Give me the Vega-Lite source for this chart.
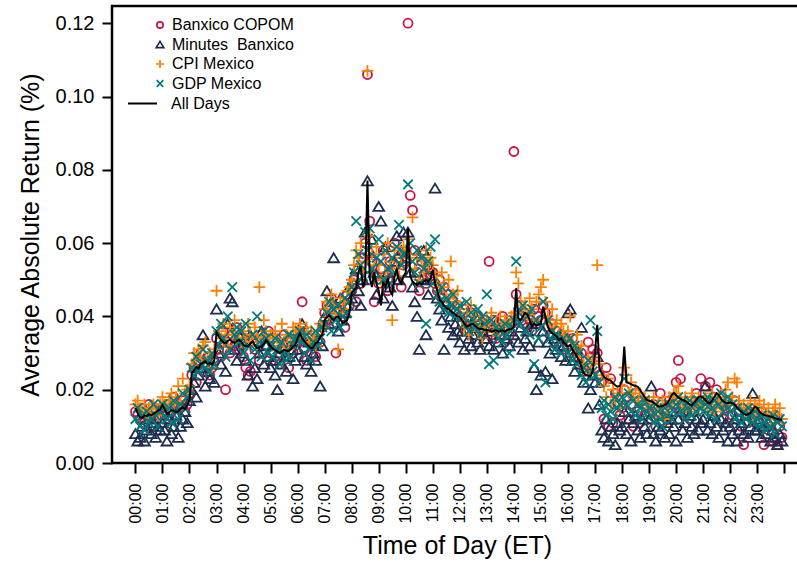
{
"$schema":"https://vega.github.io/schema/vega-lite/v6.json",
"width":690,"height":457,"autosize":"none",
"padding":{"left":112,"top":6,"right":0,"bottom":102},
"config":{"font":"Liberation Sans","view":{"stroke":"#000","strokeWidth":2.5},
"axis":{"grid":false,"domain":false,"tickColor":"#000","tickWidth":2,"tickSize":10,"labelColor":"#000","titleColor":"#000","titleFontWeight":"normal"},
"legend":{"labelColor":"#000"}},
"datasets":{"r":[
{"t":0,"a":0.014,"b":0.008,"c":0.016,"d":0.012,"l":0.0150},
{"t":5,"a":0.013,"b":0.006,"c":0.017,"d":0.015,"l":0.0136},
{"t":10,"a":0.012,"b":0.007,"c":0.015,"d":0.010,"l":0.0125},
{"t":15,"a":0.015,"b":0.010,"c":0.014,"d":0.013,"l":0.0123},
{"t":20,"a":0.011,"b":0.006,"c":0.016,"d":0.009,"l":0.0130},
{"t":25,"a":0.013,"b":0.009,"c":0.013,"d":0.014,"l":0.0128},
{"t":30,"a":0.016,"b":0.012,"c":0.015,"d":0.011,"l":0.0133},
{"t":35,"a":0.012,"b":0.008,"c":0.014,"d":0.012,"l":0.0130},
{"t":40,"a":0.010,"b":0.011,"c":0.016,"d":0.016,"l":0.0134},
{"t":45,"a":0.014,"b":0.007,"c":0.015,"d":0.013,"l":0.0138},
{"t":50,"a":0.013,"b":0.010,"c":0.013,"d":0.010,"l":0.0143},
{"t":55,"a":0.015,"b":0.009,"c":0.016,"d":0.014,"l":0.0146},
{"t":60,"a":0.015,"b":0.011,"c":0.018,"d":0.016,"l":0.0158},
{"t":65,"a":0.013,"b":0.009,"c":0.016,"d":0.013,"l":0.0147},
{"t":70,"a":0.016,"b":0.006,"c":0.015,"d":0.012,"l":0.0134},
{"t":75,"a":0.012,"b":0.012,"c":0.017,"d":0.015,"l":0.0138},
{"t":80,"a":0.014,"b":0.008,"c":0.019,"d":0.011,"l":0.0145},
{"t":85,"a":0.018,"b":0.010,"c":0.016,"d":0.017,"l":0.0142},
{"t":90,"a":0.013,"b":0.013,"c":0.018,"d":0.014,"l":0.0139},
{"t":95,"a":0.016,"b":0.007,"c":0.021,"d":0.012,"l":0.0141},
{"t":100,"a":0.015,"b":0.010,"c":0.017,"d":0.016,"l":0.0148},
{"t":105,"a":0.017,"b":0.012,"c":0.023,"d":0.019,"l":0.0152},
{"t":110,"a":0.014,"b":0.014,"c":0.019,"d":0.015,"l":0.0147},
{"t":115,"a":0.016,"b":0.011,"c":0.020,"d":0.018,"l":0.0158},
{"t":120,"a":0.019,"b":0.017,"c":0.021,"d":0.020,"l":0.0172},
{"t":125,"a":0.024,"b":0.020,"c":0.027,"d":0.026,"l":0.0245},
{"t":130,"a":0.026,"b":0.022,"c":0.030,"d":0.024,"l":0.0252},
{"t":135,"a":0.022,"b":0.018,"c":0.028,"d":0.029,"l":0.0262},
{"t":140,"a":0.028,"b":0.024,"c":0.031,"d":0.025,"l":0.0258},
{"t":145,"a":0.030,"b":0.026,"c":0.029,"d":0.027,"l":0.0270},
{"t":150,"a":0.025,"b":0.035,"c":0.032,"d":0.031,"l":0.0273},
{"t":155,"a":0.027,"b":0.021,"c":0.033,"d":0.026,"l":0.0278},
{"t":160,"a":0.029,"b":0.025,"c":0.028,"d":0.028,"l":0.0270},
{"t":165,"a":0.024,"b":0.023,"c":0.030,"d":0.025,"l":0.0273},
{"t":170,"a":0.026,"b":0.027,"c":0.026,"d":0.030,"l":0.0268},
{"t":175,"a":0.028,"b":0.022,"c":0.031,"d":0.027,"l":0.0280},
{"t":180,"a":0.034,"b":0.042,"c":0.047,"d":0.036,"l":0.0356},
{"t":185,"a":0.031,"b":0.030,"c":0.036,"d":0.032,"l":0.0345},
{"t":190,"a":0.029,"b":0.027,"c":0.034,"d":0.038,"l":0.0336},
{"t":195,"a":0.036,"b":0.033,"c":0.038,"d":0.034,"l":0.0330},
{"t":200,"a":0.020,"b":0.025,"c":0.035,"d":0.029,"l":0.0327},
{"t":205,"a":0.033,"b":0.038,"c":0.032,"d":0.040,"l":0.0334},
{"t":210,"a":0.030,"b":0.045,"c":0.037,"d":0.031,"l":0.0336},
{"t":215,"a":0.035,"b":0.044,"c":0.035,"d":0.048,"l":0.0331},
{"t":220,"a":0.032,"b":0.031,"c":0.039,"d":0.035,"l":0.0327},
{"t":225,"a":0.037,"b":0.028,"c":0.034,"d":0.037,"l":0.0333},
{"t":230,"a":0.031,"b":0.035,"c":0.036,"d":0.033,"l":0.0336},
{"t":235,"a":0.034,"b":0.030,"c":0.033,"d":0.036,"l":0.0331},
{"t":240,"a":0.029,"b":0.033,"c":0.036,"d":0.030,"l":0.0322},
{"t":245,"a":0.026,"b":0.028,"c":0.034,"d":0.038,"l":0.0320},
{"t":250,"a":0.024,"b":0.024,"c":0.038,"d":0.032,"l":0.0318},
{"t":255,"a":0.025,"b":0.035,"c":0.035,"d":0.028,"l":0.0326},
{"t":260,"a":0.034,"b":0.021,"c":0.033,"d":0.035,"l":0.0332},
{"t":265,"a":0.031,"b":0.026,"c":0.037,"d":0.031,"l":0.0322},
{"t":270,"a":0.033,"b":0.023,"c":0.034,"d":0.040,"l":0.0313},
{"t":275,"a":0.028,"b":0.030,"c":0.048,"d":0.033,"l":0.0316},
{"t":280,"a":0.035,"b":0.036,"c":0.035,"d":0.029,"l":0.0318},
{"t":285,"a":0.030,"b":0.027,"c":0.039,"d":0.036,"l":0.0325},
{"t":290,"a":0.032,"b":0.032,"c":0.036,"d":0.034,"l":0.0335},
{"t":295,"a":0.036,"b":0.029,"c":0.034,"d":0.030,"l":0.0328},
{"t":300,"a":0.030,"b":0.026,"c":0.035,"d":0.032,"l":0.0318},
{"t":305,"a":0.034,"b":0.028,"c":0.033,"d":0.029,"l":0.0312},
{"t":310,"a":0.028,"b":0.024,"c":0.036,"d":0.034,"l":0.0309},
{"t":315,"a":0.032,"b":0.020,"c":0.034,"d":0.031,"l":0.0304},
{"t":320,"a":0.027,"b":0.030,"c":0.032,"d":0.027,"l":0.0300},
{"t":325,"a":0.031,"b":0.027,"c":0.038,"d":0.033,"l":0.0304},
{"t":330,"a":0.035,"b":0.033,"c":0.033,"d":0.030,"l":0.0309},
{"t":335,"a":0.029,"b":0.025,"c":0.035,"d":0.028,"l":0.0306},
{"t":340,"a":0.026,"b":0.029,"c":0.031,"d":0.035,"l":0.0305},
{"t":345,"a":0.033,"b":0.031,"c":0.034,"d":0.029,"l":0.0310},
{"t":350,"a":0.030,"b":0.023,"c":0.037,"d":0.032,"l":0.0318},
{"t":355,"a":0.032,"b":0.028,"c":0.036,"d":0.034,"l":0.0322},
{"t":360,"a":0.033,"b":0.031,"c":0.036,"d":0.034,"l":0.0340},
{"t":365,"a":0.036,"b":0.035,"c":0.038,"d":0.036,"l":0.0354},
{"t":370,"a":0.044,"b":0.038,"c":0.035,"d":0.033,"l":0.0340},
{"t":375,"a":0.031,"b":0.029,"c":0.034,"d":0.030,"l":0.0332},
{"t":380,"a":0.028,"b":0.027,"c":0.037,"d":0.035,"l":0.0325},
{"t":385,"a":0.034,"b":0.033,"c":0.033,"d":0.031,"l":0.0318},
{"t":390,"a":0.030,"b":0.025,"c":0.036,"d":0.028,"l":0.0313},
{"t":395,"a":0.032,"b":0.030,"c":0.034,"d":0.033,"l":0.0316},
{"t":400,"a":0.029,"b":0.028,"c":0.032,"d":0.036,"l":0.0327},
{"t":405,"a":0.035,"b":0.034,"c":0.035,"d":0.032,"l":0.0330},
{"t":410,"a":0.033,"b":0.021,"c":0.038,"d":0.034,"l":0.0345},
{"t":415,"a":0.037,"b":0.032,"c":0.037,"d":0.037,"l":0.0350},
{"t":420,"a":0.041,"b":0.040,"c":0.042,"d":0.038,"l":0.0390},
{"t":425,"a":0.043,"b":0.047,"c":0.044,"d":0.041,"l":0.0398},
{"t":430,"a":0.039,"b":0.038,"c":0.040,"d":0.044,"l":0.0404},
{"t":435,"a":0.045,"b":0.044,"c":0.046,"d":0.036,"l":0.0395},
{"t":440,"a":0.038,"b":0.056,"c":0.043,"d":0.042,"l":0.0390},
{"t":445,"a":0.030,"b":0.042,"c":0.041,"d":0.039,"l":0.0398},
{"t":450,"a":0.042,"b":0.036,"c":0.031,"d":0.043,"l":0.0400},
{"t":455,"a":0.044,"b":0.045,"c":0.045,"d":0.037,"l":0.0392},
{"t":460,"a":0.040,"b":0.039,"c":0.042,"d":0.040,"l":0.0382},
{"t":465,"a":0.037,"b":0.041,"c":0.044,"d":0.045,"l":0.0386},
{"t":470,"a":0.046,"b":0.043,"c":0.047,"d":0.041,"l":0.0390},
{"t":475,"a":0.043,"b":0.048,"c":0.048,"d":0.044,"l":0.0410},
{"t":480,"a":0.047,"b":0.045,"c":0.050,"d":0.048,"l":0.0464},
{"t":485,"a":0.050,"b":0.049,"c":0.054,"d":0.052,"l":0.0472},
{"t":490,"a":0.044,"b":0.053,"c":0.058,"d":0.066,"l":0.0480},
{"t":495,"a":0.053,"b":0.047,"c":0.056,"d":0.057,"l":0.0520},
{"t":500,"a":0.049,"b":0.043,"c":0.060,"d":0.054,"l":0.0537},
{"t":505,"a":0.056,"b":0.050,"c":0.052,"d":0.051,"l":0.0480},
{"t":510,"a":0.060,"b":0.063,"c":0.055,"d":0.063,"l":0.0500},
{"t":515,"a":0.106,"b":0.077,"c":0.107,"d":0.058,"l":0.0771},
{"t":520,"a":0.066,"b":0.058,"c":0.062,"d":0.064,"l":0.0505},
{"t":525,"a":0.055,"b":0.061,"c":0.057,"d":0.053,"l":0.0480},
{"t":530,"a":0.044,"b":0.052,"c":0.054,"d":0.050,"l":0.0520},
{"t":535,"a":0.051,"b":0.046,"c":0.059,"d":0.056,"l":0.0490},
{"t":540,"a":0.049,"b":0.070,"c":0.054,"d":0.061,"l":0.0470},
{"t":545,"a":0.053,"b":0.066,"c":0.050,"d":0.055,"l":0.0430},
{"t":550,"a":0.058,"b":0.045,"c":0.057,"d":0.050,"l":0.0495},
{"t":555,"a":0.051,"b":0.059,"c":0.052,"d":0.058,"l":0.0480},
{"t":560,"a":0.047,"b":0.052,"c":0.060,"d":0.053,"l":0.0505},
{"t":565,"a":0.055,"b":0.048,"c":0.055,"d":0.049,"l":0.0470},
{"t":570,"a":0.052,"b":0.043,"c":0.039,"d":0.056,"l":0.0460},
{"t":575,"a":0.060,"b":0.055,"c":0.058,"d":0.052,"l":0.0510},
{"t":580,"a":0.050,"b":0.062,"c":0.053,"d":0.059,"l":0.0527},
{"t":585,"a":0.056,"b":0.050,"c":0.051,"d":0.065,"l":0.0500},
{"t":590,"a":0.048,"b":0.058,"c":0.056,"d":0.054,"l":0.0490},
{"t":595,"a":0.054,"b":0.063,"c":0.059,"d":0.057,"l":0.0510},
{"t":600,"a":0.055,"b":0.056,"c":0.058,"d":0.057,"l":0.0520},
{"t":605,"a":0.120,"b":0.063,"c":0.061,"d":0.076,"l":0.0640},
{"t":610,"a":0.073,"b":0.052,"c":0.056,"d":0.060,"l":0.0510},
{"t":615,"a":0.069,"b":0.048,"c":0.067,"d":0.055,"l":0.0495},
{"t":620,"a":0.058,"b":0.044,"c":0.053,"d":0.052,"l":0.0490},
{"t":625,"a":0.052,"b":0.040,"c":0.057,"d":0.058,"l":0.0486},
{"t":630,"a":0.047,"b":0.031,"c":0.050,"d":0.049,"l":0.0492},
{"t":635,"a":0.055,"b":0.050,"c":0.055,"d":0.056,"l":0.0488},
{"t":640,"a":0.050,"b":0.058,"c":0.052,"d":0.053,"l":0.0495},
{"t":645,"a":0.049,"b":0.035,"c":0.058,"d":0.038,"l":0.0500},
{"t":650,"a":0.054,"b":0.046,"c":0.054,"d":0.055,"l":0.0494},
{"t":655,"a":0.051,"b":0.053,"c":0.056,"d":0.059,"l":0.0505},
{"t":660,"a":0.052,"b":0.050,"c":0.054,"d":0.049,"l":0.0527},
{"t":665,"a":0.049,"b":0.075,"c":0.051,"d":0.061,"l":0.0490},
{"t":670,"a":0.047,"b":0.045,"c":0.049,"d":0.046,"l":0.0470},
{"t":675,"a":0.050,"b":0.042,"c":0.047,"d":0.044,"l":0.0445},
{"t":680,"a":0.045,"b":0.039,"c":0.052,"d":0.048,"l":0.0440},
{"t":685,"a":0.048,"b":0.031,"c":0.048,"d":0.042,"l":0.0430},
{"t":690,"a":0.043,"b":0.044,"c":0.045,"d":0.045,"l":0.0423},
{"t":695,"a":0.046,"b":0.037,"c":0.050,"d":0.041,"l":0.0420},
{"t":700,"a":0.042,"b":0.040,"c":0.055,"d":0.043,"l":0.0415},
{"t":705,"a":0.044,"b":0.035,"c":0.046,"d":0.046,"l":0.0410},
{"t":710,"a":0.041,"b":0.038,"c":0.044,"d":0.040,"l":0.0405},
{"t":715,"a":0.043,"b":0.036,"c":0.047,"d":0.042,"l":0.0400},
{"t":720,"a":0.040,"b":0.033,"c":0.042,"d":0.043,"l":0.0398},
{"t":725,"a":0.038,"b":0.036,"c":0.039,"d":0.040,"l":0.0390},
{"t":730,"a":0.042,"b":0.031,"c":0.037,"d":0.038,"l":0.0380},
{"t":735,"a":0.036,"b":0.038,"c":0.041,"d":0.044,"l":0.0372},
{"t":740,"a":0.039,"b":0.034,"c":0.035,"d":0.036,"l":0.0375},
{"t":745,"a":0.041,"b":0.032,"c":0.043,"d":0.041,"l":0.0378},
{"t":750,"a":0.037,"b":0.035,"c":0.038,"d":0.039,"l":0.0380},
{"t":755,"a":0.035,"b":0.040,"c":0.040,"d":0.037,"l":0.0373},
{"t":760,"a":0.040,"b":0.033,"c":0.036,"d":0.042,"l":0.0368},
{"t":765,"a":0.038,"b":0.031,"c":0.039,"d":0.035,"l":0.0365},
{"t":770,"a":0.036,"b":0.037,"c":0.034,"d":0.040,"l":0.0366},
{"t":775,"a":0.039,"b":0.034,"c":0.037,"d":0.038,"l":0.0363},
{"t":780,"a":0.037,"b":0.034,"c":0.039,"d":0.046,"l":0.0363},
{"t":785,"a":0.055,"b":0.032,"c":0.037,"d":0.027,"l":0.0362},
{"t":790,"a":0.035,"b":0.036,"c":0.041,"d":0.039,"l":0.0358},
{"t":795,"a":0.039,"b":0.031,"c":0.036,"d":0.028,"l":0.0360},
{"t":800,"a":0.034,"b":0.038,"c":0.038,"d":0.037,"l":0.0362},
{"t":805,"a":0.038,"b":0.033,"c":0.035,"d":0.034,"l":0.0359},
{"t":810,"a":0.036,"b":0.035,"c":0.040,"d":0.036,"l":0.0360},
{"t":815,"a":0.040,"b":0.030,"c":0.037,"d":0.033,"l":0.0362},
{"t":820,"a":0.033,"b":0.037,"c":0.039,"d":0.038,"l":0.0358},
{"t":825,"a":0.037,"b":0.034,"c":0.036,"d":0.035,"l":0.0363},
{"t":830,"a":0.035,"b":0.032,"c":0.038,"d":0.030,"l":0.0365},
{"t":835,"a":0.038,"b":0.036,"c":0.040,"d":0.037,"l":0.0366},
{"t":840,"a":0.085,"b":0.035,"c":0.041,"d":0.039,"l":0.0372},
{"t":845,"a":0.046,"b":0.039,"c":0.052,"d":0.055,"l":0.0477},
{"t":850,"a":0.040,"b":0.033,"c":0.049,"d":0.041,"l":0.0395},
{"t":855,"a":0.043,"b":0.037,"c":0.044,"d":0.038,"l":0.0390},
{"t":860,"a":0.038,"b":0.031,"c":0.041,"d":0.043,"l":0.0400},
{"t":865,"a":0.041,"b":0.034,"c":0.043,"d":0.036,"l":0.0410},
{"t":870,"a":0.037,"b":0.036,"c":0.040,"d":0.040,"l":0.0405},
{"t":875,"a":0.039,"b":0.032,"c":0.045,"d":0.035,"l":0.0390},
{"t":880,"a":0.036,"b":0.038,"c":0.042,"d":0.042,"l":0.0372},
{"t":885,"a":0.042,"b":0.026,"c":0.039,"d":0.027,"l":0.0380},
{"t":890,"a":0.038,"b":0.020,"c":0.044,"d":0.039,"l":0.0375},
{"t":895,"a":0.040,"b":0.033,"c":0.046,"d":0.034,"l":0.0378},
{"t":900,"a":0.039,"b":0.024,"c":0.048,"d":0.037,"l":0.0380},
{"t":905,"a":0.043,"b":0.036,"c":0.050,"d":0.044,"l":0.0427},
{"t":910,"a":0.041,"b":0.025,"c":0.044,"d":0.022,"l":0.0400},
{"t":915,"a":0.037,"b":0.033,"c":0.040,"d":0.039,"l":0.0372},
{"t":920,"a":0.035,"b":0.030,"c":0.038,"d":0.034,"l":0.0360},
{"t":925,"a":0.038,"b":0.023,"c":0.042,"d":0.036,"l":0.0354},
{"t":930,"a":0.033,"b":0.034,"c":0.037,"d":0.031,"l":0.0350},
{"t":935,"a":0.036,"b":0.031,"c":0.039,"d":0.035,"l":0.0345},
{"t":940,"a":0.032,"b":0.035,"c":0.035,"d":0.033,"l":0.0336},
{"t":945,"a":0.035,"b":0.029,"c":0.038,"d":0.030,"l":0.0340},
{"t":950,"a":0.031,"b":0.032,"c":0.036,"d":0.034,"l":0.0330},
{"t":955,"a":0.034,"b":0.028,"c":0.034,"d":0.031,"l":0.0325},
{"t":960,"a":0.033,"b":0.041,"c":0.036,"d":0.030,"l":0.0318},
{"t":965,"a":0.030,"b":0.042,"c":0.040,"d":0.034,"l":0.0322},
{"t":970,"a":0.034,"b":0.028,"c":0.033,"d":0.028,"l":0.0310},
{"t":975,"a":0.029,"b":0.025,"c":0.031,"d":0.032,"l":0.0300},
{"t":980,"a":0.031,"b":0.031,"c":0.035,"d":0.027,"l":0.0290},
{"t":985,"a":0.027,"b":0.027,"c":0.029,"d":0.030,"l":0.0280},
{"t":990,"a":0.030,"b":0.037,"c":0.032,"d":0.024,"l":0.0262},
{"t":995,"a":0.025,"b":0.022,"c":0.027,"d":0.026,"l":0.0245},
{"t":1000,"a":0.028,"b":0.026,"c":0.026,"d":0.022,"l":0.0240},
{"t":1005,"a":0.033,"b":0.015,"c":0.029,"d":0.028,"l":0.0238},
{"t":1010,"a":0.029,"b":0.020,"c":0.025,"d":0.039,"l":0.0236},
{"t":1015,"a":0.031,"b":0.024,"c":0.028,"d":0.025,"l":0.0250},
{"t":1020,"a":0.026,"b":0.022,"c":0.028,"d":0.024,"l":0.0300},
{"t":1025,"a":0.030,"b":0.029,"c":0.054,"d":0.036,"l":0.0377},
{"t":1030,"a":0.024,"b":0.016,"c":0.027,"d":0.022,"l":0.0260},
{"t":1035,"a":0.022,"b":0.009,"c":0.024,"d":0.015,"l":0.0245},
{"t":1040,"a":0.012,"b":0.007,"c":0.021,"d":0.017,"l":0.0235},
{"t":1045,"a":0.026,"b":0.012,"c":0.018,"d":0.013,"l":0.0230},
{"t":1050,"a":0.010,"b":0.006,"c":0.023,"d":0.016,"l":0.0227},
{"t":1055,"a":0.023,"b":0.010,"c":0.016,"d":0.014,"l":0.0225},
{"t":1060,"a":0.011,"b":0.008,"c":0.020,"d":0.012,"l":0.0218},
{"t":1065,"a":0.019,"b":0.005,"c":0.017,"d":0.018,"l":0.0212},
{"t":1070,"a":0.016,"b":0.011,"c":0.019,"d":0.015,"l":0.0208},
{"t":1075,"a":0.013,"b":0.009,"c":0.015,"d":0.016,"l":0.0210},
{"t":1080,"a":0.015,"b":0.010,"c":0.021,"d":0.018,"l":0.0225},
{"t":1085,"a":0.020,"b":0.014,"c":0.026,"d":0.023,"l":0.0318},
{"t":1090,"a":0.018,"b":0.008,"c":0.024,"d":0.016,"l":0.0220},
{"t":1095,"a":0.012,"b":0.012,"c":0.019,"d":0.019,"l":0.0218},
{"t":1100,"a":0.016,"b":0.006,"c":0.022,"d":0.014,"l":0.0215},
{"t":1105,"a":0.010,"b":0.011,"c":0.018,"d":0.017,"l":0.0212},
{"t":1110,"a":0.019,"b":0.013,"c":0.020,"d":0.013,"l":0.0210},
{"t":1115,"a":0.014,"b":0.009,"c":0.017,"d":0.016,"l":0.0208},
{"t":1120,"a":0.011,"b":0.007,"c":0.019,"d":0.015,"l":0.0200},
{"t":1125,"a":0.017,"b":0.012,"c":0.016,"d":0.012,"l":0.0190},
{"t":1130,"a":0.013,"b":0.010,"c":0.018,"d":0.017,"l":0.0180},
{"t":1135,"a":0.015,"b":0.008,"c":0.015,"d":0.014,"l":0.0172},
{"t":1140,"a":0.014,"b":0.012,"c":0.017,"d":0.015,"l":0.0170},
{"t":1145,"a":0.012,"b":0.021,"c":0.015,"d":0.013,"l":0.0168},
{"t":1150,"a":0.016,"b":0.008,"c":0.018,"d":0.011,"l":0.0165},
{"t":1155,"a":0.010,"b":0.006,"c":0.013,"d":0.016,"l":0.0160},
{"t":1160,"a":0.013,"b":0.010,"c":0.016,"d":0.014,"l":0.0155},
{"t":1165,"a":0.019,"b":0.009,"c":0.014,"d":0.012,"l":0.0154},
{"t":1170,"a":0.011,"b":0.013,"c":0.017,"d":0.010,"l":0.0156},
{"t":1175,"a":0.015,"b":0.007,"c":0.012,"d":0.015,"l":0.0158},
{"t":1180,"a":0.012,"b":0.011,"c":0.015,"d":0.013,"l":0.0162},
{"t":1185,"a":0.017,"b":0.008,"c":0.018,"d":0.016,"l":0.0172},
{"t":1190,"a":0.014,"b":0.012,"c":0.016,"d":0.012,"l":0.0185},
{"t":1195,"a":0.016,"b":0.010,"c":0.019,"d":0.014,"l":0.0191},
{"t":1200,"a":0.022,"b":0.006,"c":0.019,"d":0.016,"l":0.0185},
{"t":1205,"a":0.028,"b":0.012,"c":0.021,"d":0.018,"l":0.0178},
{"t":1210,"a":0.023,"b":0.014,"c":0.017,"d":0.014,"l":0.0175},
{"t":1215,"a":0.016,"b":0.009,"c":0.015,"d":0.017,"l":0.0172},
{"t":1220,"a":0.013,"b":0.011,"c":0.018,"d":0.012,"l":0.0170},
{"t":1225,"a":0.015,"b":0.007,"c":0.016,"d":0.015,"l":0.0165},
{"t":1230,"a":0.012,"b":0.013,"c":0.014,"d":0.017,"l":0.0160},
{"t":1235,"a":0.017,"b":0.010,"c":0.019,"d":0.013,"l":0.0157},
{"t":1240,"a":0.014,"b":0.008,"c":0.017,"d":0.016,"l":0.0165},
{"t":1245,"a":0.019,"b":0.012,"c":0.015,"d":0.014,"l":0.0172},
{"t":1250,"a":0.016,"b":0.009,"c":0.018,"d":0.017,"l":0.0180},
{"t":1255,"a":0.023,"b":0.011,"c":0.016,"d":0.015,"l":0.0182},
{"t":1260,"a":0.017,"b":0.012,"c":0.016,"d":0.014,"l":0.0178},
{"t":1265,"a":0.021,"b":0.021,"c":0.018,"d":0.016,"l":0.0172},
{"t":1270,"a":0.015,"b":0.009,"c":0.015,"d":0.018,"l":0.0165},
{"t":1275,"a":0.022,"b":0.011,"c":0.017,"d":0.013,"l":0.0163},
{"t":1280,"a":0.013,"b":0.008,"c":0.019,"d":0.015,"l":0.0170},
{"t":1285,"a":0.018,"b":0.013,"c":0.014,"d":0.017,"l":0.0180},
{"t":1290,"a":0.020,"b":0.010,"c":0.016,"d":0.012,"l":0.0190},
{"t":1295,"a":0.014,"b":0.007,"c":0.018,"d":0.016,"l":0.0185},
{"t":1300,"a":0.016,"b":0.012,"c":0.015,"d":0.019,"l":0.0175},
{"t":1305,"a":0.012,"b":0.009,"c":0.017,"d":0.014,"l":0.0168},
{"t":1310,"a":0.015,"b":0.011,"c":0.020,"d":0.016,"l":0.0165},
{"t":1315,"a":0.017,"b":0.006,"c":0.022,"d":0.018,"l":0.0163},
{"t":1320,"a":0.015,"b":0.010,"c":0.016,"d":0.014,"l":0.0165},
{"t":1325,"a":0.013,"b":0.008,"c":0.018,"d":0.016,"l":0.0163},
{"t":1330,"a":0.017,"b":0.012,"c":0.023,"d":0.012,"l":0.0160},
{"t":1335,"a":0.012,"b":0.006,"c":0.022,"d":0.015,"l":0.0152},
{"t":1340,"a":0.014,"b":0.009,"c":0.017,"d":0.013,"l":0.0145},
{"t":1345,"a":0.010,"b":0.011,"c":0.015,"d":0.011,"l":0.0140},
{"t":1350,"a":0.005,"b":0.008,"c":0.016,"d":0.014,"l":0.0135},
{"t":1355,"a":0.013,"b":0.013,"c":0.014,"d":0.012,"l":0.0131},
{"t":1360,"a":0.011,"b":0.007,"c":0.015,"d":0.015,"l":0.0133},
{"t":1365,"a":0.015,"b":0.010,"c":0.017,"d":0.013,"l":0.0136},
{"t":1370,"a":0.012,"b":0.019,"c":0.013,"d":0.011,"l":0.0145},
{"t":1375,"a":0.014,"b":0.009,"c":0.016,"d":0.014,"l":0.0154},
{"t":1380,"a":0.013,"b":0.009,"c":0.015,"d":0.012,"l":0.0150},
{"t":1385,"a":0.011,"b":0.012,"c":0.017,"d":0.010,"l":0.0140},
{"t":1390,"a":0.014,"b":0.007,"c":0.014,"d":0.013,"l":0.0135},
{"t":1395,"a":0.005,"b":0.010,"c":0.016,"d":0.011,"l":0.0131},
{"t":1400,"a":0.012,"b":0.008,"c":0.013,"d":0.009,"l":0.0130},
{"t":1405,"a":0.009,"b":0.011,"c":0.015,"d":0.012,"l":0.0128},
{"t":1410,"a":0.011,"b":0.006,"c":0.012,"d":0.010,"l":0.0127},
{"t":1415,"a":0.006,"b":0.009,"c":0.014,"d":0.013,"l":0.0125},
{"t":1420,"a":0.013,"b":0.007,"c":0.016,"d":0.008,"l":0.0122},
{"t":1425,"a":0.005,"b":0.005,"c":0.013,"d":0.011,"l":0.0120},
{"t":1430,"a":0.010,"b":0.008,"c":0.015,"d":0.012,"l":0.0119},
{"t":1435,"a":0.007,"b":0.006,"c":0.012,"d":0.010,"l":0.0118}
]},
"data":{"name":"r"},
"encoding":{
"x":{"field":"t","type":"quantitative","scale":{"domain":[-52,1479.5],"nice":false,"zero":false},
"axis":{"values":[0,60,120,180,240,300,360,420,480,540,600,660,720,780,840,900,960,1020,1080,1140,1200,1260,1320,1380,1440],
"labelExpr":"datum.value >= 1440 ? '' : (datum.value < 600 ? '0' : '') + floor(datum.value/60) + ':00'",
"labelAngle":270,"labelAlign":"right","labelBaseline":"middle","labelFontSize":16,"labelPadding":10,
"title":"Time of Day (ET)","titleFontSize":25,"titlePadding":10}}},
"layer":[
{"transform":[{"fold":["a","b","c","d"],"as":["k","v"]}],
"mark":{"type":"point","filled":false,"opacity":1,"strokeWidth":1.8,"size":81},
"encoding":{
"y":{"field":"v","type":"quantitative","scale":{"domain":[0,0.1247],"nice":false,"zero":false},
"axis":{"values":[0,0.02,0.04,0.06,0.08,0.1,0.12],"format":".2f","labelFontSize":20,"labelPadding":8,
"title":"Average Absolute Return (%)","titleFontSize":25,"titlePadding":12}},
"color":{"field":"k","type":"nominal","scale":{"domain":["a","b","c","d"],"range":["#cc1144","#1e2d4e","#ff7f00","#007a7a"]},
"legend":{"orient":"none","legendX":40,"legendY":11,"title":null,"labelFontSize":16,"symbolSize":40,"symbolStrokeWidth":1.7,"rowPadding":3.5,"labelOffset":4,
"labelExpr":"datum.label == 'a' ? 'Banxico COPOM' : datum.label == 'b' ? 'Minutes\u00a0 Banxico' : datum.label == 'c' ? 'CPI Mexico' : 'GDP Mexico'"}},
"shape":{"field":"k","type":"nominal","scale":{"domain":["a","b","c","d"],"range":["circle","M0,-1L1.2,1L-1.2,1Z","M-1.3,0L1.3,0M0,-1.3L0,1.3","M-1.05,-1.05L1.05,1.05M-1.05,1.05L1.05,-1.05"]},
"legend":{"orient":"none","legendX":40,"legendY":11,"title":null,"labelFontSize":16,"symbolSize":40,"symbolStrokeWidth":1.7,"rowPadding":3.5,"labelOffset":4,
"labelExpr":"datum.label == 'a' ? 'Banxico COPOM' : datum.label == 'b' ? 'Minutes\u00a0 Banxico' : datum.label == 'c' ? 'CPI Mexico' : 'GDP Mexico'"}},
"order":{"field":"k","type":"nominal"}}},
{"mark":{"type":"line","strokeWidth":2},
"encoding":{
"y":{"field":"l","type":"quantitative"},
"stroke":{"datum":"All Days","type":"nominal","scale":{"range":["#000000"]},
"legend":{"orient":"none","legendX":15,"legendY":82,"title":null,"labelFontSize":16,"symbolType":"stroke","symbolSize":841,"symbolStrokeWidth":2,"labelOffset":13}}}}
]
}
